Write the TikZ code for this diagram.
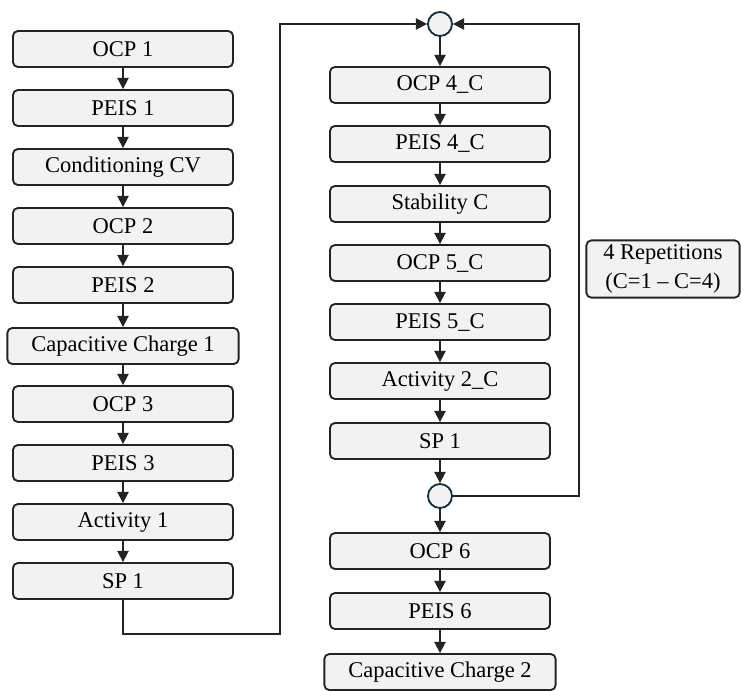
\documentclass[tikz,border=0pt]{standalone}
\usepackage{fontspec}
\setmainfont{Liberation Serif}
\newfontfamily\stepfont[Ligatures=TeX]{Liberation Serif}
\definecolor{StepGray}{RGB}{242,242,242}
\definecolor{StepDark}{RGB}{35,35,35}
\definecolor{JoinTeal}{RGB}{16,48,60}
\usetikzlibrary{arrows.meta, positioning, calc}

\begin{document}
\begin{tikzpicture}[x=0.025cm, y=-0.025cm,
        stepbox/.style={draw=StepDark, fill=StepGray, rounded corners=3.5pt,
                        line width=1.3pt, minimum width=5.5cm, minimum height=0.9cm,
                        inner sep=0pt, font=\stepfont\fontsize{16}{18}\selectfont},
        widebox/.style={stepbox, minimum width=5.78cm},
        joint/.style={circle, draw=JoinTeal, fill=StepGray, line width=1.3pt,
                      minimum size=0.6cm, inner sep=0pt},
        arr/.style={-{Triangle[length=8pt, width=8pt]}, StepDark, line width=1.2pt}
      ]
        \useasboundingbox (0,0) rectangle (741,690);

        % first column
        \node[stepbox] (ocpA)   at (123,49)  {OCP 1};
        \node[stepbox] (peisA)  at (123,108) {PEIS 1};
        \node[stepbox] (cond)   at (123,167) {Conditioning CV};
        \node[stepbox] (ocpB)   at (123,226) {OCP 2};
        \node[stepbox] (peisB)  at (123,285) {PEIS 2};
        \node[widebox] (capA)   at (123,346) {Capacitive Charge 1};
        \node[stepbox] (ocpC)   at (123,404) {OCP 3};
        \node[stepbox] (peisC)  at (123,463) {PEIS 3};
        \node[stepbox] (actA)   at (123,522) {Activity 1};
        \node[stepbox] (spA)    at (123,581) {SP 1};

        \draw[arr] (ocpA) -- (peisA);
        \draw[arr] (peisA) -- (cond);
        \draw[arr] (cond) -- (ocpB);
        \draw[arr] (ocpB) -- (peisB);
        \draw[arr] (peisB) -- (capA);
        \draw[arr] (capA) -- (ocpC);
        \draw[arr] (ocpC) -- (peisC);
        \draw[arr] (peisC) -- (actA);
        \draw[arr] (actA) -- (spA);

        % repeated block
        \node[joint] (jtop) at (440,24) {};
        \node[stepbox] (ocpD)   at (440,85)  {OCP 4\_C};
        \node[stepbox] (peisD)  at (440,144) {PEIS 4\_C};
        \node[stepbox] (stab)   at (440,204) {Stability C};
        \node[stepbox] (ocpE)   at (440,263) {OCP 5\_C};
        \node[stepbox] (peisE)  at (440,322) {PEIS 5\_C};
        \node[stepbox] (actB)   at (440,381) {Activity 2\_C};
        \node[stepbox] (spB)    at (440,441) {SP 1};
        \node[joint] (jbot) at (440,496) {};
        \node[stepbox] (ocpF)   at (440,551) {OCP 6};
        \node[stepbox] (peisF)  at (440,611) {PEIS 6};
        \node[widebox] (capB)   at (440,672) {Capacitive Charge 2};

        \draw[arr] (jtop) -- (ocpD);
        \draw[arr] (ocpD) -- (peisD);
        \draw[arr] (peisD) -- (stab);
        \draw[arr] (stab) -- (ocpE);
        \draw[arr] (ocpE) -- (peisE);
        \draw[arr] (peisE) -- (actB);
        \draw[arr] (actB) -- (spB);
        \draw[arr] (spB) -- (jbot);
        \draw[arr] (jbot) -- (ocpF);
        \draw[arr] (ocpF) -- (peisF);
        \draw[arr] (peisF) -- (capB);

        % links between the columns and the loop
        \coordinate (lowL) at (123,634);
        \coordinate (lowR) at (280,634);
        \coordinate (upL)  at (280,24);
        \coordinate (loopB) at (579,496);
        \coordinate (loopT) at (579,24);
        \draw[arr] (spA.south) -- (lowL) -- (lowR) -- (upL) -- (jtop.west);
        \draw[arr] (jbot.east) -- (loopB) -- (loopT) -- (jtop.east);

        \node[stepbox, minimum width=3.83cm, minimum height=1.43cm, align=center,
              font=\stepfont\fontsize{16}{20}\selectfont] (reps) at (663,269)
          {4 Repetitions\\ (C=1 -- C=4)};
      \end{tikzpicture}
\end{document}
